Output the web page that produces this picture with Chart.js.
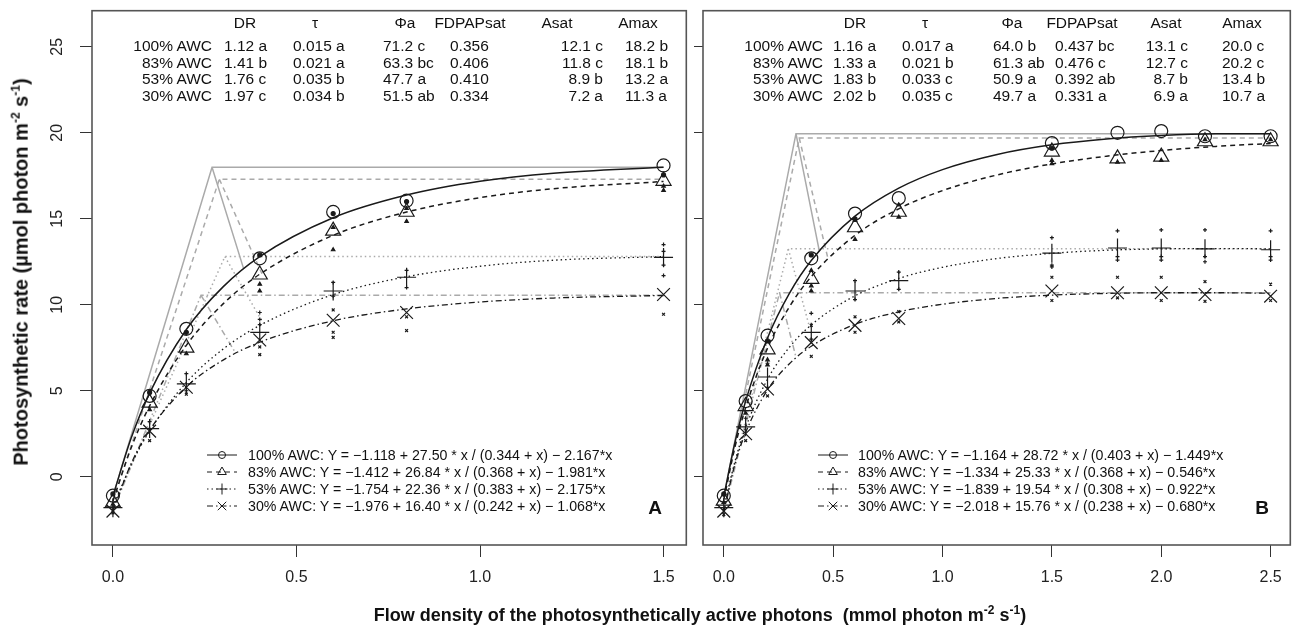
<!DOCTYPE html>
<html>
<head>
<meta charset="utf-8">
<script src="https://cdn.jsdelivr.net/npm/chart.js@4.4.1/dist/chart.umd.min.js"></script>
<style>
  body { margin: 0; background: #fff; width: 1301px; height: 627px; position: relative; overflow: hidden;
         font-family: "Liberation Sans", Arial, sans-serif; color: #111; }
  canvas { position: absolute; top: 0; }
  #cA { left: 0; }
  #cB { left: 692px; }
  .t { position: absolute; white-space: nowrap; font-size: 15.5px; line-height: 17px; }
  .lg { font-size: 14.2px; }
  .ttl { font-weight: bold; font-size: 18px; line-height: 20px; }
  .ytl { font-size: 20px; }
  .ttl sup { font-size: 12px; }
  .pl { font-weight: bold; font-size: 19px; }
</style>
</head>
<body>
<canvas id="cA" width="697" height="627"></canvas>
<canvas id="cB" width="609" height="627"></canvas>
<div id="txt"></div>
<script>
// ---- data ----
const awc = ["100% AWC", "83% AWC", "53% AWC", "30% AWC"];
const heads = ["DR", "τ", "Φa", "FDPAPsat", "Asat", "Amax"];

const tabA = [
  ["1.12 a", "1.41 b", "1.76 c", "1.97 c"],
  ["0.015 a", "0.021 a", "0.035 b", "0.034 b"],
  ["71.2 c", "63.3 bc", "47.7 a", "51.5 ab"],
  ["0.356", "0.406", "0.410", "0.334"],
  ["12.1 c", "11.8 c", "8.9 b", "7.2 a"],
  ["18.2 b", "18.1 b", "13.2 a", "11.3 a"]
];
const tabB = [
  ["1.16 a", "1.33 a", "1.83 b", "2.02 b"],
  ["0.017 a", "0.021 b", "0.033 c", "0.035 c"],
  ["64.0 b", "61.3 ab", "50.9 a", "49.7 a"],
  ["0.437 bc", "0.476 c", "0.392 ab", "0.331 a"],
  ["13.1 c", "12.7 c", "8.7 b", "6.9 a"],
  ["20.0 c", "20.2 c", "13.4 b", "10.7 a"]
];

const legA = [
  "100% AWC: Y = −1.118 + 27.50 * x / (0.344 + x) − 2.167*x",
  "83% AWC: Y = −1.412 + 26.84 * x / (0.368 + x) − 1.981*x",
  "53% AWC: Y = −1.754 + 22.36 * x / (0.383 + x) − 2.175*x",
  "30% AWC: Y = −1.976 + 16.40 * x / (0.242 + x) − 1.068*x"
];
const legB = [
  "100% AWC: Y = −1.164 + 28.72 * x / (0.403 + x) − 1.449*x",
  "83% AWC: Y = −1.334 + 25.33 * x / (0.368 + x) − 0.546*x",
  "53% AWC: Y = −1.839 + 19.54 * x / (0.308 + x) − 0.922*x",
  "30% AWC: Y = −2.018 + 15.76 * x / (0.238 + x) − 0.680*x"
];

const yTicks = [0, 5, 10, 15, 20, 25];
const xTicksA = [0, 0.5, 1.0, 1.5];
const xTicksB = [0, 0.5, 1.0, 1.5, 2.0, 2.5];

// panel A: means
const xA = [0, 0.1, 0.2, 0.4, 0.6, 0.8, 1.5];
const m100A = [-1.1, 4.7, 8.6, 12.7, 15.4, 16.05, 18.1];
const m83A = [-1.5, 4.3, 7.5, 11.75, 14.3, 15.4, 17.2];
const m53A = [-1.8, 2.8, 5.4, 8.4, 10.8, 11.6, 12.75];
const m30A = [-2.0, 2.65, 5.2, 7.95, 9.1, 9.55, 10.6];

// panel A: replicates
const r100A = [[0, -1.0], [0.1, 4.9], [0.2, 8.4], [0.4, 12.9], [0.6, 15.3], [0.8, 16.0], [1.5, 17.55]];
const r83A = [[0, -1.6], [0.1, 3.9], [0.2, 7.15], [0.4, 11.2], [0.4, 10.8], [0.6, 13.2], [0.6, 14.5],
  [0.8, 14.85], [0.8, 15.6], [1.5, 16.65], [1.5, 16.9]];
const r53A = [[0, -1.9], [0.1, 3.2], [0.2, 6.0], [0.2, 5.0], [0.4, 9.55], [0.4, 9.15], [0.4, 8.85],
  [0.6, 11.3], [0.6, 10.5], [0.8, 12.0], [0.8, 11.0], [1.5, 13.5], [1.5, 13.1], [1.5, 12.3], [1.5, 11.7]];
const r30A = [[0, -2.1], [0.1, 2.1], [0.2, 4.8], [0.4, 7.55], [0.4, 7.1], [0.6, 9.7], [0.6, 8.4],
  [0.6, 8.1], [0.8, 8.5], [0.8, 9.3], [1.5, 9.45]];

// panel A: fitted curves
const cxA = [0, 0.05, 0.1, 0.2, 0.3, 0.4, 0.6, 0.8, 1.0, 1.2, 1.5];
const c100A = [-1.12, 2.26, 4.86, 8.56, 11.04, 12.8, 15.06, 16.38, 17.18, 17.65, 18.0];
const c83A = [-1.41, 1.7, 4.12, 7.64, 10.05, 11.78, 14.04, 15.39, 16.23, 16.75, 17.17];
const c53A = [-1.75, 0.72, 2.66, 5.48, 7.42, 8.8, 10.59, 11.63, 12.24, 12.59, 12.8];
const c30A = [-1.98, 0.78, 2.71, 5.23, 6.78, 7.82, 9.07, 9.76, 10.16, 10.39, 10.54];

// panel A: grey construction lines
const startA = [-1.12, -1.41, -1.75, -1.98];
const peakXA = [0.27, 0.29, 0.305, 0.24];
const plateauA = [18.0, 17.3, 12.8, 10.55];
const satXA = [0.356, 0.406, 0.410, 0.334];
const satYA = [12.1, 11.8, 8.9, 7.2];

// panel B: means
const xB = [0, 0.1, 0.2, 0.4, 0.6, 0.8, 1.5, 1.8, 2.0, 2.2, 2.5];
const m100B = [-1.1, 4.4, 8.2, 12.7, 15.3, 16.2, 19.4, 20.0, 20.1, 19.8, 19.8];
const m83B = [-1.4, 4.1, 7.4, 11.5, 14.5, 15.4, 18.9, 18.5, 18.6, 19.5, 19.5];
const m53B = [-1.8, 2.9, 5.8, 8.4, 10.8, 11.4, 13.0, 13.3, 13.3, 13.25, 13.2];
const m30B = [-2.0, 2.5, 5.1, 7.8, 8.8, 9.2, 10.8, 10.7, 10.7, 10.6, 10.5];

// panel B: replicates
const r100B = [[0, -1.0], [0.2, 7.9], [0.4, 12.9], [0.6, 15.0], [1.5, 19.1]];
const r83B = [[0, -1.5], [0.1, 3.7], [0.2, 6.8], [0.2, 6.5], [0.4, 12.0], [0.4, 10.8], [0.4, 11.1],
  [0.6, 13.8], [0.6, 14.9], [0.8, 15.1], [0.8, 15.8], [1.5, 18.2], [1.5, 18.4], [1.8, 18.3],
  [2.0, 18.4], [2.2, 19.6], [2.5, 19.6]];
const r53B = [[0, -1.9], [0.1, 3.4], [0.2, 6.6], [0.2, 5.2], [0.4, 9.5], [0.4, 8.0], [0.6, 11.4],
  [0.6, 10.3], [0.8, 11.9], [0.8, 10.9], [1.5, 13.9], [1.5, 12.3], [1.5, 12.2], [1.8, 14.3],
  [1.8, 12.8], [1.8, 12.6], [2.0, 14.35], [2.0, 12.8], [2.0, 12.6], [2.2, 14.35], [2.2, 12.8],
  [2.2, 12.5], [2.5, 14.3], [2.5, 12.8], [2.5, 12.6]];
const r30B = [[0, -2.2], [0.1, 2.1], [0.2, 4.7], [0.4, 8.8], [0.4, 7.0], [0.6, 9.3], [0.6, 8.4],
  [0.8, 9.6], [0.8, 9.0], [1.5, 11.6], [1.5, 10.25], [1.8, 11.6], [1.8, 10.4], [2.0, 11.6],
  [2.0, 10.25], [2.2, 11.35], [2.2, 10.2], [2.5, 11.2], [2.5, 10.25]];

// panel B: fitted curves
const cxB = [0, 0.05, 0.1, 0.2, 0.3, 0.4, 0.6, 0.8, 1.0, 1.25, 1.5, 1.75, 2.0, 2.25, 2.5];
const c100B = [-1.16, 1.93, 4.4, 8.07, 10.66, 12.57, 15.15, 16.78, 17.86, 18.74, 19.3, 19.64, 19.84, 19.94, 19.95];
const c83B = [-1.33, 1.67, 4.02, 7.48, 9.88, 11.64, 14.04, 15.58, 16.64, 17.55, 18.19, 18.64, 18.97, 19.21, 19.38];
const c53B = [-1.84, 0.84, 2.86, 5.67, 7.53, 8.83, 10.52, 11.53, 12.18, 12.69, 12.99, 13.17, 13.25, 13.27, 13.25];
const c30B = [-2.02, 0.69, 2.57, 5.05, 6.57, 7.59, 8.86, 9.59, 10.03, 10.37, 10.56, 10.66, 10.7, 10.7, 10.67];

// panel B: grey construction lines
const startB = [-1.16, -1.33, -1.84, -2.02];
const peakXB = [0.33, 0.345, 0.295, 0.255];
const plateauB = [19.95, 19.7, 13.25, 10.7];
const satXB = [0.437, 0.476, 0.392, 0.331];
const satYB = [13.1, 12.7, 8.7, 6.9];

// ---- styles ----
const ink = "#1a1a1a";
const grey = "#aaaaaa";
const sty = [
  { pt: "circle", r: 6.5, dash: [], lw: 1.5, lr: 3.5 },
  { pt: "triangle", r: 8.7, dash: [5, 4], lw: 1.5, lr: 5 },
  { pt: "cross", r: 9.5, dash: [1.5, 3], lw: 1.3, lr: 5.5 },
  { pt: "crossRot", r: 9, dash: [6, 3, 1.5, 3], lw: 1.3, lr: 6 }
];

function mark(ctx, style, x, y, r) {
  ctx.beginPath();
  if (style === "circle") {
    ctx.arc(x, y, r, 0, Math.PI * 2);
  } else if (style === "triangle") {
    ctx.moveTo(x, y - r);
    ctx.lineTo(x + r * 0.866, y + r * 0.5);
    ctx.lineTo(x - r * 0.866, y + r * 0.5);
    ctx.closePath();
  } else if (style === "cross") {
    ctx.moveTo(x - r, y); ctx.lineTo(x + r, y);
    ctx.moveTo(x, y - r); ctx.lineTo(x, y + r);
  } else {
    const d = r * 0.707;
    ctx.moveTo(x - d, y - d); ctx.lineTo(x + d, y + d);
    ctx.moveTo(x + d, y - d); ctx.lineTo(x - d, y + d);
  }
  ctx.stroke();
}

const decor = {
  id: "decor",
  afterDraw(chart, args, o) {
    const { ctx, chartArea: a, scales } = chart;
    ctx.save();
    ctx.strokeStyle = "#555";
    ctx.lineWidth = 1.6;
    ctx.strokeRect(a.left, a.top, a.right - a.left, a.bottom - a.top);
    if (o.yLabelX) {
      ctx.fillStyle = "#222";
      ctx.font = '16px "Liberation Sans"';
      ctx.textAlign = "center";
      ctx.textBaseline = "middle";
      yTicks.forEach((v) => {
        const y = scales.y.getPixelForValue(v);
        ctx.save();
        ctx.translate(o.yLabelX, y);
        ctx.rotate(-Math.PI / 2);
        ctx.fillText(String(v), 0, 0);
        ctx.restore();
      });
    }
    // legend keys
    o.legY.forEach((y, i) => {
      const s = sty[i];
      ctx.strokeStyle = ink;
      ctx.lineWidth = 1;
      ctx.setLineDash(s.dash);
      ctx.beginPath();
      ctx.moveTo(o.legX0, y);
      ctx.lineTo(o.legX1, y);
      ctx.stroke();
      ctx.setLineDash([]);
      mark(ctx, s.pt, (o.legX0 + o.legX1) / 2, y, s.lr);
    });
    ctx.restore();
  }
};

const pts = (xs, ys) => xs.map((x, i) => ({ x: x, y: ys[i] }));
const prs = (arr) => arr.map((p) => ({ x: p[0], y: p[1] }));

function build(p) {
  const ds = [];
  p.means.forEach((m, i) => {
    ds.push({
      type: "scatter", data: pts(p.xs, m), order: 0,
      pointStyle: sty[i].pt, pointRadius: sty[i].r, pointBorderColor: ink,
      pointBackgroundColor: "rgba(0,0,0,0)", pointBorderWidth: 1.2
    });
    ds.push({
      type: "scatter", data: prs(p.reps[i]), order: 0,
      pointStyle: sty[i].pt, pointRadius: 2, pointBorderColor: ink,
      pointBackgroundColor: ink, pointBorderWidth: 1.2
    });
  });
  p.curves.forEach((c, i) => {
    ds.push({
      type: "line", data: pts(p.cx, c), order: 1, pointRadius: 0,
      borderColor: ink, borderWidth: sty[i].lw, borderDash: sty[i].dash,
      cubicInterpolationMode: "monotone", fill: false
    });
  });
  const end = p.xs[p.xs.length - 1];
  p.start.forEach((s, i) => {
    const px = p.peakX[i], pl = p.plateau[i];
    ds.push({
      type: "line", order: 2, pointRadius: 0, tension: 0, fill: false, spanGaps: false,
      borderColor: grey, borderWidth: 1.5, borderDash: sty[i].dash,
      data: [{ x: 0, y: s }, { x: px, y: pl }, { x: end, y: pl }, { x: px, y: null },
        { x: px, y: pl }, { x: p.satX[i], y: p.satY[i] }]
    });
  });
  return ds;
}

function makeChart(id, p) {
  new Chart(document.getElementById(id), {
    type: "scatter",
    data: { datasets: build(p) },
    options: {
      responsive: false,
      animation: false,
      events: [],
      layout: { padding: p.pad },
      plugins: { legend: { display: false }, tooltip: { enabled: false }, decor: p.decor },
      scales: {
        x: {
          type: "linear", min: p.xmin, max: p.xmax,
          afterBuildTicks: (s) => { s.ticks = p.xticks.map((v) => ({ value: v })); },
          afterFit: (s) => { s.height = 82; },
          ticks: { callback: (v) => Number(v).toFixed(1), color: "#222", padding: 11,
                   font: { family: "Liberation Sans", size: 16 }, maxRotation: 0 },
          grid: { drawOnChartArea: false, drawTicks: true, tickLength: 12, color: "#333" },
          border: { display: false }
        },
        y: {
          type: "linear", min: -3.97, max: 27.1,
          afterBuildTicks: (s) => { s.ticks = yTicks.map((v) => ({ value: v })); },
          afterFit: (s) => { s.width = p.yw; },
          ticks: { display: false },
          grid: { drawOnChartArea: false, drawTicks: true, tickLength: p.ytl, color: "#333" },
          border: { display: false }
        }
      }
    },
    plugins: [decor]
  });
}

makeChart("cA", {
  xs: xA, means: [m100A, m83A, m53A, m30A], reps: [r100A, r83A, r53A, r30A],
  cx: cxA, curves: [c100A, c83A, c53A, c30A],
  start: startA, peakX: peakXA, plateau: plateauA, satX: satXA, satY: satYA,
  xmin: -0.057, xmax: 1.562, xticks: xTicksA,
  pad: { left: 0, right: 5, top: 5, bottom: 0 }, yw: 92, ytl: 12,
  decor: { yLabelX: 58, legX0: 207, legX1: 237, legY: [455, 472, 489, 506] }
});
makeChart("cB", {
  xs: xB, means: [m100B, m83B, m53B, m30B], reps: [r100B, r83B, r53B, r30B],
  cx: cxB, curves: [c100B, c83B, c53B, c30B],
  start: startB, peakX: peakXB, plateau: plateauB, satX: satXB, satY: satYB,
  xmin: -0.095, xmax: 2.59, xticks: xTicksB,
  pad: { left: 0, right: 2, top: 5, bottom: 0 }, yw: 11, ytl: 9,
  decor: { yLabelX: 0, legX0: 818 - 692, legX1: 848 - 692, legY: [455, 472, 489, 506] }
});

// ---- text ----
const box = document.getElementById("txt");
function put(html, x, y, align, cls) {
  const d = document.createElement("div");
  d.className = "t " + (cls || "");
  d.innerHTML = html;
  d.style.left = x + "px";
  d.style.top = y + "px";
  const tx = align === "c" ? "-50%" : align === "r" ? "-100%" : "0";
  d.style.transform = "translate(" + tx + ",-50%)";
  box.appendChild(d);
  return d;
}

function table(tab, lx, hx, vx, al) {
  const rowsY = [45, 61.5, 78, 94.5];
  heads.forEach((h, j) => put(h, hx[j], 22, "c"));
  awc.forEach((a, i) => {
    put(a, lx, rowsY[i], "r");
    tab.forEach((col, j) => put(col[i], vx[j], rowsY[i], al[j]));
  });
}
table(tabA, 212, [245, 315, 405, 470, 557, 638], [224, 293, 383, 450, 603, 625], ["l", "l", "l", "l", "r", "l"]);
table(tabB, 823, [855, 925, 1012, 1082, 1166, 1242], [833, 902, 993, 1055, 1188, 1222], ["l", "l", "l", "l", "r", "l"]);

[455, 472, 489, 506].forEach((y, i) => {
  put(legA[i], 248, y, "l", "lg");
  put(legB[i], 858, y, "l", "lg");
});
put("A", 655, 507, "c", "pl");
put("B", 1262, 507, "c", "pl");

put("Flow density of the photosynthetically active photons &nbsp;(mmol photon m<sup>-2</sup> s<sup>-1</sup>)", 700, 612, "c", "ttl");
const yt = put("Photosynthetic rate (µmol photon m<sup>-2</sup> s<sup>-1</sup>)", 18, 272, "c", "ttl ytl");
yt.style.transform = "translate(-50%,-50%) rotate(-90deg)";
</script>
</body>
</html>
